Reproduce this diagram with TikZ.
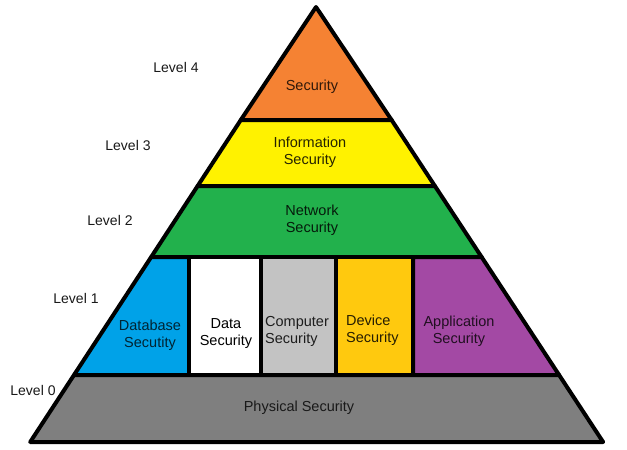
\documentclass[tikz,border=0pt]{standalone}
\usepackage{fontspec}
\setmainfont{Liberation Sans}
\definecolor{corange}{HTML}{F58233}
\definecolor{cyellow}{HTML}{FFF200}
\definecolor{cgreen}{HTML}{22B14C}
\definecolor{cblue}{HTML}{00A2E8}
\definecolor{clgray}{HTML}{C3C3C3}
\definecolor{cgold}{HTML}{FFC90E}
\definecolor{cpurple}{HTML}{A349A4}
\definecolor{cdgray}{HTML}{7F7F7F}
\begin{document}
\begin{tikzpicture}[x=1pt,y=-1pt,
  lvl/.style={draw=black,line width=4pt,line join=round},
  lab/.style={font=\fontsize{14.5}{17}\selectfont, align=center, inner sep=0pt},
  lvllab/.style={font=\fontsize{14}{17}\selectfont, inner sep=0pt, text=black!90}]
\useasboundingbox (0,0) rectangle (627,450);
\fill[white] (0,0) rectangle (627,450);
% Level 4
\draw[lvl,fill=corange] (316,7) -- (391.6,120) -- (240.8,120) -- cycle;
% Level 3
\draw[lvl,fill=cyellow] (240.8,120) -- (391.6,120) -- (434.9,186) -- (197.6,186) -- cycle;
% Level 2
\draw[lvl,fill=cgreen] (197.6,186) -- (434.9,186) -- (481.6,257) -- (151.2,257) -- cycle;
% Level 1 cells
\draw[lvl,fill=cblue] (151.2,257) -- (189,257) -- (189,375) -- (74,375) -- cycle;
\draw[lvl,fill=white] (189,257) rectangle (261,375);
\draw[lvl,fill=clgray] (261,257) rectangle (336,375);
\draw[lvl,fill=cgold] (336,257) rectangle (413,375);
\draw[lvl,fill=cpurple] (413,257) -- (481.6,257) -- (559.1,375) -- (413,375) -- cycle;
% Level 0
\draw[lvl,fill=cdgray] (74,375) -- (559.1,375) -- (603.1,442) -- (30.2,442) -- cycle;
% texts
\node[lab,text=black!80!corange] (sec) at (312,87) {Security};
\node[lab,text=black!85!cyellow] (info) at (310,152) {Information\\Security};
\node[lab,text=black!85!cgreen] (net) at (312,220) {Network\\Security};
\node[lab,text=black!78!cblue] (db) at (150,335) {Database\\Secutity};
\node[lab,text=black] (data) at (226,334) {Data\\Security};
\node[lab,align=left,anchor=west,text=black!85!clgray] (comp) at (265,331) {Computer\\Security};
\node[lab,align=left,anchor=west,text=black!85!cgold] (dev) at (346,330) {Device\\Security};
\node[lab,text=black!80!cpurple] (app) at (459,331) {Application\\Security};
\node[lab,text=black!90] (phys) at (299,408) {Physical Security};
% level labels
\node[lvllab] (l4) at (176,67) {Level 4};
\node[lvllab] (l3) at (128,145) {Level 3};
\node[lvllab] (l2) at (110,220) {Level 2};
\node[lvllab] (l1) at (76,298) {Level 1};
\node[lvllab] (l0) at (33,390) {Level 0};
\end{tikzpicture}
\end{document}
